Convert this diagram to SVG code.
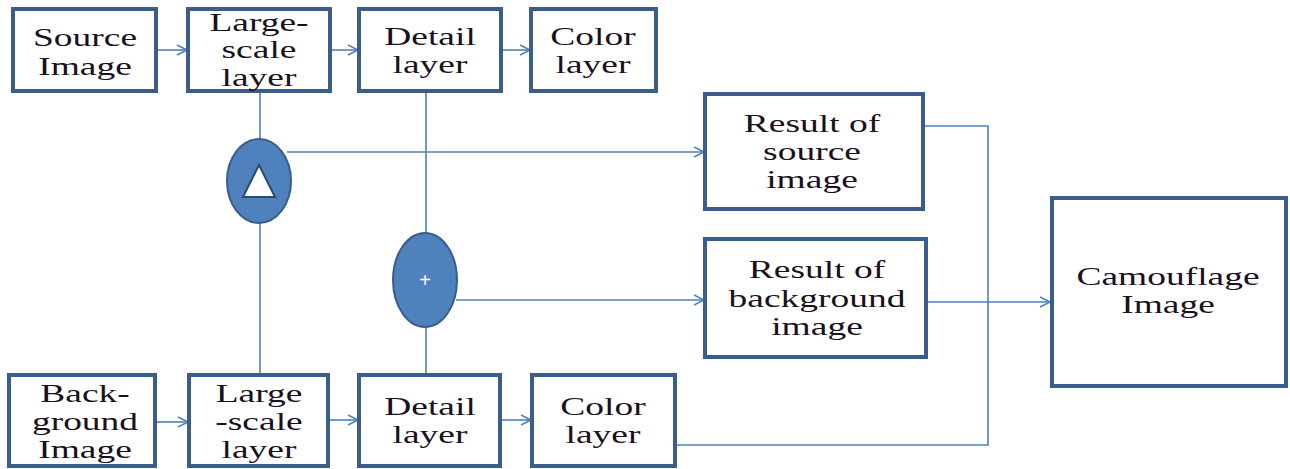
<svg xmlns="http://www.w3.org/2000/svg" width="1290" height="469" viewBox="0 0 1290 469">
<style>
.box{fill:#fff;stroke:#3a5d8c;stroke-width:4}
.ln{fill:none;stroke:#4f81bd;stroke-width:1.6}
.ar{marker-end:url(#arr)}
.t{font-family:"Liberation Serif","Times New Roman",serif;font-size:25px;fill:#1a1020;text-anchor:middle}
.op{fill:#4f81bd;stroke:#3a5d8c;stroke-width:2}
</style>
<defs>
<marker id="arr" markerUnits="userSpaceOnUse" markerWidth="14" markerHeight="14" refX="11" refY="6" orient="auto">
<path d="M1,1 L11,6 L1,11" fill="none" stroke="#4f81bd" stroke-width="1.6"/>
</marker>
</defs>
<g id="connectors">
<line class="ln ar" x1="157" y1="50" x2="187" y2="50"/>
<line class="ln ar" x1="331" y1="50" x2="358" y2="50"/>
<line class="ln ar" x1="502" y1="50" x2="530" y2="50"/>
<line class="ln ar" x1="156" y1="422" x2="188" y2="422"/>
<line class="ln ar" x1="329" y1="420" x2="358" y2="420"/>
<line class="ln ar" x1="501" y1="420" x2="531" y2="420"/>
<line class="ln" x1="260" y1="92" x2="260" y2="140"/>
<line class="ln" x1="260" y1="222" x2="260" y2="374"/>
<line class="ln" x1="426" y1="92" x2="426" y2="234"/>
<line class="ln" x1="426" y1="326" x2="426" y2="374"/>
<line class="ln ar" x1="287" y1="152" x2="704" y2="152"/>
<line class="ln ar" x1="456" y1="300" x2="704" y2="300"/>
<polyline class="ln" points="924,126 988,126 988,445 676,445"/>
<line class="ln ar" x1="928" y1="302" x2="1050" y2="302"/>
</g>
<g id="n-source"><rect class="box" x="13" y="9" width="143" height="82"/>
<text class="t" transform="translate(85,46) scale(1.5,1)">Source</text>
<text class="t" transform="translate(85,75) scale(1.5,1)">Image</text></g>
<g id="n-large-top"><rect class="box" x="188" y="9" width="142" height="82"/>
<text class="t" transform="translate(259,31) scale(1.5,1)">Large-</text>
<text class="t" transform="translate(259,58) scale(1.5,1)">scale</text>
<text class="t" transform="translate(259,86) scale(1.5,1)">layer</text></g>
<g id="n-detail-top"><rect class="box" x="359" y="9" width="142" height="82"/>
<text class="t" transform="translate(430,45) scale(1.5,1)">Detail</text>
<text class="t" transform="translate(430,73) scale(1.5,1)">layer</text></g>
<g id="n-color-top"><rect class="box" x="531" y="9" width="125" height="82"/>
<text class="t" transform="translate(593,45) scale(1.5,1)">Color</text>
<text class="t" transform="translate(593,73) scale(1.5,1)">layer</text></g>
<g id="n-delta"><ellipse class="op" cx="259" cy="181" rx="32" ry="42"/>
<polygon points="259,165 243,197 275,197" fill="#fff" stroke="#2c4a72" stroke-width="2"/></g>
<g id="n-plus"><ellipse class="op" cx="425" cy="280" rx="32" ry="47"/>
<text x="425" y="287" font-family="Liberation Sans,Arial,sans-serif" font-size="20" fill="#fff" text-anchor="middle">+</text></g>
<g id="n-result-src"><rect class="box" x="705" y="94" width="218" height="115"/>
<text class="t" transform="translate(812,132) scale(1.5,1)">Result of</text>
<text class="t" transform="translate(812,160) scale(1.5,1)">source</text>
<text class="t" transform="translate(812,188) scale(1.5,1)">image</text></g>
<g id="n-result-bg"><rect class="box" x="705" y="239" width="221" height="118"/>
<text class="t" transform="translate(817,278) scale(1.5,1)">Result of</text>
<text class="t" transform="translate(817,307) scale(1.5,1)">background</text>
<text class="t" transform="translate(817,335) scale(1.5,1)">image</text></g>
<g id="n-camouflage"><rect class="box" x="1052" y="198" width="234" height="188"/>
<text class="t" transform="translate(1168,285) scale(1.5,1)">Camouflage</text>
<text class="t" transform="translate(1168,313) scale(1.5,1)">Image</text></g>
<g id="n-background"><rect class="box" x="9" y="375" width="146" height="91"/>
<text class="t" transform="translate(85,402) scale(1.5,1)">Back-</text>
<text class="t" transform="translate(85,430) scale(1.5,1)">ground</text>
<text class="t" transform="translate(85,458) scale(1.5,1)">Image</text></g>
<g id="n-large-bot"><rect class="box" x="189" y="375" width="139" height="91"/>
<text class="t" transform="translate(259,402) scale(1.5,1)">Large</text>
<text class="t" transform="translate(259,430) scale(1.5,1)">-scale</text>
<text class="t" transform="translate(259,458) scale(1.5,1)">layer</text></g>
<g id="n-detail-bot"><rect class="box" x="359" y="375" width="141" height="91"/>
<text class="t" transform="translate(430,415) scale(1.5,1)">Detail</text>
<text class="t" transform="translate(430,443) scale(1.5,1)">layer</text></g>
<g id="n-color-bot"><rect class="box" x="532" y="375" width="143" height="91"/>
<text class="t" transform="translate(603,415) scale(1.5,1)">Color</text>
<text class="t" transform="translate(603,443) scale(1.5,1)">layer</text></g>
</svg>
